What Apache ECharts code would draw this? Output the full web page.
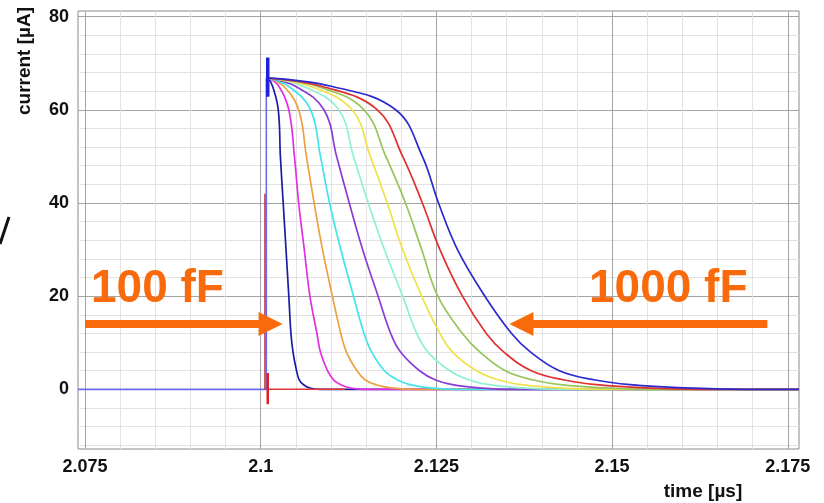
<!DOCTYPE html>
<html>
<head>
<meta charset="utf-8">
<script src="https://cdn.jsdelivr.net/npm/echarts@6/dist/echarts.min.js"></script>
<style>
    html, body { margin: 0; padding: 0; background: #fff; }
    #chart { width: 824px; height: 503px; }
</style>
</head>
<body>
<div id="chart"></div>
<script>
// current levels (µA) where every decay curve was sampled
const levels = [66.8, 65, 60, 50, 40, 30, 20, 12, 8, 4, 2, 1, 0.3, 0];
// time (µs) at which each capacitance curve passes those levels
const t100 = [2.1011, 2.1017, 2.1025, 2.1028, 2.1032, 2.1036, 2.1040, 2.1043, 2.1046, 2.1051, 2.1055, 2.1061, 2.1070, 2.1084];
const t200 = [2.1011, 2.1026, 2.1040, 2.1048, 2.1054, 2.1062, 2.1070, 2.1080, 2.1085, 2.1095, 2.1104, 2.1114, 2.1128, 2.1147];
const t300 = [2.1011, 2.1033, 2.1054, 2.1065, 2.1076, 2.1088, 2.1102, 2.1114, 2.1122, 2.1137, 2.1149, 2.1164, 2.1186, 2.1213];
const t400 = [2.1011, 2.1040, 2.1071, 2.1085, 2.1098, 2.1114, 2.1132, 2.1147, 2.1158, 2.1176, 2.1195, 2.1212, 2.1240, 2.1276];
const t500 = [2.1011, 2.1050, 2.1090, 2.1108, 2.1126, 2.1145, 2.1167, 2.1185, 2.1199, 2.1226, 2.1249, 2.1273, 2.1310, 2.1350];
const t600 = [2.1011, 2.1061, 2.1111, 2.1132, 2.1153, 2.1176, 2.1202, 2.1222, 2.1238, 2.1269, 2.1297, 2.1325, 2.1371, 2.1421];
const t700 = [2.1011, 2.1071, 2.1130, 2.1156, 2.1180, 2.1202, 2.1229, 2.1255, 2.1273, 2.1307, 2.1339, 2.1371, 2.1422, 2.1481];
const t800 = [2.1011, 2.1081, 2.1147, 2.1178, 2.1206, 2.1229, 2.1252, 2.1287, 2.1312, 2.1348, 2.1388, 2.1427, 2.1486, 2.1553];
const t900 = [2.1011, 2.1088, 2.1166, 2.1202, 2.1230, 2.1255, 2.1287, 2.1321, 2.1346, 2.1385, 2.1432, 2.1478, 2.1548, 2.1623];
const t1000 = [2.1011, 2.1102, 2.1192, 2.1230, 2.1253, 2.1280, 2.1319, 2.1357, 2.1384, 2.1425, 2.1476, 2.1526, 2.1604, 2.1686];

const capNames = ['100 fF', '200 fF', '300 fF', '400 fF', '500 fF', '600 fF', '700 fF', '800 fF', '900 fF', '1000 fF'];
const curveTimes = [t100, t200, t300, t400, t500, t600, t700, t800, t900, t1000];
const curveColors = ['#1c1ca4', '#e030e0', '#eea040', '#40e4ea', '#8a3cd6', '#90f0d4', '#f2e04a', '#98c45a', '#e03030', '#2a2ad0'];

// the flat part before the pulse and the edge / spike at the switching instant
const baseline = [[2.074, 0], [2.1008, 0], [2.1008, 66.8], [2.1011, 66.8]];
const blueSpike = [[2.1010, 62.8], [2.1010, 71.2]];
const redSpike = [[2.1010, 3.5], [2.1010, -3.2]];
const redEdge = [[2.1006, 0], [2.1006, 42]];
const redBase = [[2.1011, 0], [2.112, 0]];

const tMin = 2.074, tMax = 2.1766;
const iMin = -12.8, iMax = 81.2;
const xTickLabels = [2.075, 2.1, 2.125, 2.15, 2.175];
const yTickLabels = [0, 20, 40, 60, 80];
// arrows: [from, to] in (time, current)
const arrowLeft = [[2.075, 14], [2.1014, 14]];
const arrowRight = [[2.1721, 14], [2.1371, 14]];

const orange = '#f86a0c';
const major = '#a4a4a4', minor = '#e2e2e2', none = 'rgba(0,0,0,0)';
const xGridColors = [], yGridColors = [];
for (let k = 0; k < 25; k++) {
    xGridColors.push(k === 1 ? major : (k % 5 === 1 ? minor : none));
    yGridColors.push(k === 16 ? major : (k % 5 === 1 ? minor : none));
}
const labelFont = { fontFamily: 'Liberation Sans', fontWeight: 'bold', fontSize: 18, color: '#111' };

function pick(list, v, eps) {
    for (const l of list) {
        if (Math.abs(l - v) < eps) return String(l);
    }
    return '';
}

const chart = echarts.init(document.getElementById('chart'));

const series = [
    {
        type: 'line',
        data: baseline,
        showSymbol: false,
        lineStyle: { color: '#6a6aee', width: 1.6 },
        markLine: {
            silent: true,
            symbol: ['none', 'triangle'],
            symbolSize: 24,
            label: { show: false },
            lineStyle: { color: orange, width: 8, type: 'solid' },
            data: [
                [{ coord: arrowLeft[0] }, { coord: arrowLeft[1] }],
                [{ coord: arrowRight[0] }, { coord: arrowRight[1] }],
            ],
        },
    },
];
curveTimes.forEach((ts, k) => {
    series.push({
        type: 'line',
        name: capNames[k],
        data: ts.map((t, j) => [t, levels[j]]).concat([[tMax, 0]]),
        smooth: 0.4,
        showSymbol: false,
        lineStyle: { color: curveColors[k], width: 1.7 },
    });
});
series.push(
    { type: 'line', data: redBase, showSymbol: false, lineStyle: { color: '#e03838', width: 1.5 } },
    { type: 'line', data: redEdge, showSymbol: false, lineStyle: { color: '#b02030', width: 1.3 } },
    { type: 'line', data: blueSpike, showSymbol: false, lineStyle: { color: '#2020e0', width: 3.5 } },
    { type: 'line', data: redSpike, showSymbol: false, lineStyle: { color: '#e02020', width: 2.5 } }
);

const option = {
    animation: false,
    backgroundColor: '#fff',
    grid: { left: 78, right: 25, top: 11, bottom: 54, show: true, borderColor: '#8a8a8a', borderWidth: 1 },
    xAxis: {
        type: 'value',
        min: tMin,
        max: tMax,
        interval: 0.001,
        axisLine: { show: false },
        axisTick: { show: false },
        axisLabel: Object.assign({ margin: 9, formatter: (v) => pick(xTickLabels, v, 1e-6) }, labelFont),
        splitLine: { show: true, lineStyle: { color: xGridColors, width: 1 } },
    },
    yAxis: {
        type: 'value',
        min: iMin,
        max: iMax,
        interval: 0.8,
        axisLine: { show: false },
        axisTick: { show: false },
        axisLabel: Object.assign({ margin: 9, formatter: (v) => pick(yTickLabels, v, 1e-4) }, labelFont),
        splitLine: { show: true, lineStyle: { color: yGridColors, width: 1 } },
    },
    graphic: [
        {
            type: 'text', x: 25, y: 61, rotation: Math.PI / 2, z: 100,
            style: { text: 'current [µA]', align: 'center', verticalAlign: 'middle', font: 'bold 19px "Liberation Sans"', fill: '#111' },
        },
        {
            type: 'text', x: 703, y: 492, z: 100,
            style: { text: 'time [µs]', align: 'center', verticalAlign: 'middle', font: 'bold 19px "Liberation Sans"', fill: '#111' },
        },
        {
            type: 'text', x: 91, y: 289, z: 100,
            style: { text: '100 fF', align: 'left', verticalAlign: 'middle', font: 'bold 46px "Liberation Sans"', fill: orange },
        },
        {
            type: 'text', x: 589, y: 289, z: 100,
            style: { text: '1000 fF', align: 'left', verticalAlign: 'middle', font: 'bold 46px "Liberation Sans"', fill: orange },
        },
        {
            type: 'line', shape: { x1: 0, y1: 244, x2: 9, y2: 217 }, z: 100,
            style: { stroke: '#111', lineWidth: 3 },
        },
    ],
    series: series,
};
chart.setOption(option);
</script>
</body>
</html>
